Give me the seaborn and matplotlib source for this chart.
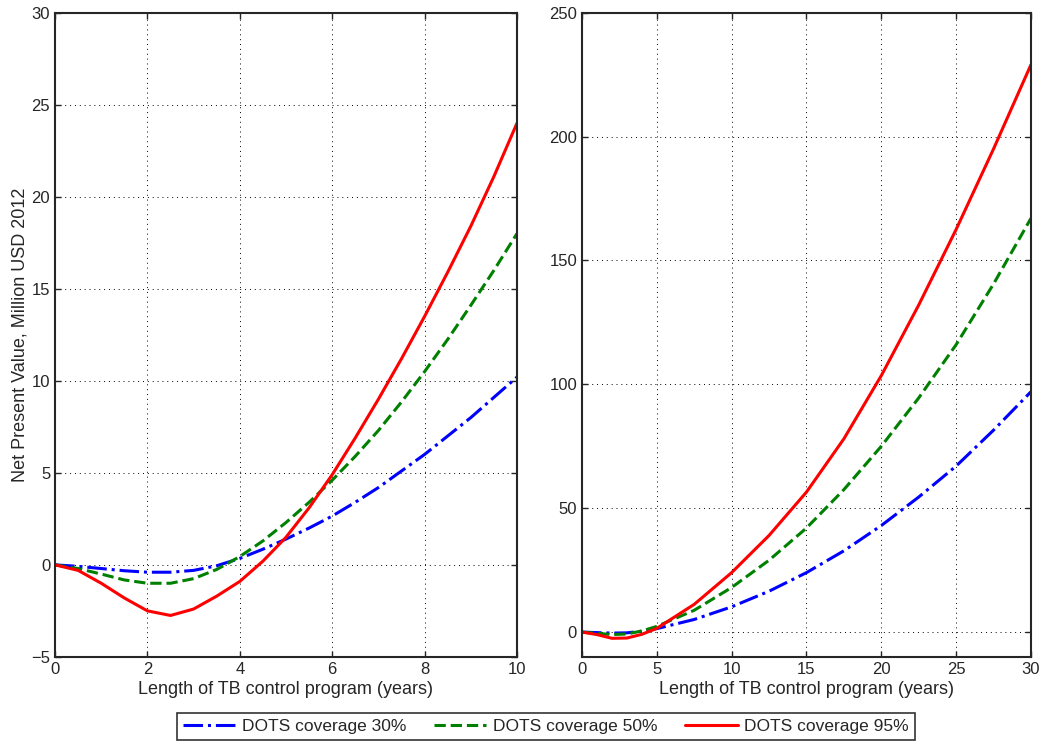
import numpy as np
import pandas as pd
import matplotlib
matplotlib.use("Agg")
import matplotlib.pyplot as plt
import seaborn as sns

# values (NPV, million USD 2012)
years_short = [0, 0.5, 1, 1.5, 2, 2.5, 3, 3.5, 4, 4.5, 5, 5.5, 6, 6.5, 7, 7.5, 8, 8.5, 9, 9.5, 10]
npv30_short = [0, -0.08, -0.2, -0.32, -0.4, -0.4, -0.3, -0.05, 0.35, 0.85, 1.4, 2.0, 2.65, 3.4, 4.2, 5.1, 6.0, 7.0, 8.0, 9.1, 10.2]
npv50_short = [0, -0.2, -0.5, -0.82, -1.0, -1.0, -0.75, -0.25, 0.45, 1.3, 2.3, 3.4, 4.6, 5.9, 7.3, 8.85, 10.5, 12.25, 14.1, 16.0, 18.0]
npv95_short = [0, -0.3, -1.0, -1.8, -2.5, -2.75, -2.4, -1.7, -0.9, 0.2, 1.5, 3.1, 4.9, 6.9, 9.0, 11.2, 13.5, 15.9, 18.4, 21.1, 24.0]

years_long = [0, 1, 2, 3, 4, 5, 7.5, 10, 12.5, 15, 17.5, 20, 22.5, 25, 27.5, 30]
npv30_long = [0, -0.2, -0.4, -0.3, 0.35, 1.4, 5.1, 10.2, 16.5, 24, 32.8, 43, 54.5, 67, 81.5, 97]
npv50_long = [0, -0.5, -1.0, -0.75, 0.45, 2.3, 8.8, 18, 29, 42, 57.5, 75, 94.5, 116, 140.5, 167]
npv95_long = [0, -1.0, -2.5, -2.4, -0.9, 1.5, 11.2, 24, 39, 56.5, 78, 103.5, 132, 162.5, 195, 229]

labels = ["DOTS coverage 30%", "DOTS coverage 50%", "DOTS coverage 95%"]
colors = ["#0000ff", "#008000", "#ff0000"]
styles = ["-.", "--", "-"]

sns.set_style("ticks")
plt.rcParams["font.family"] = ["Liberation Sans", "DejaVu Sans"]
plt.rcParams["font.size"] = 12

fig = plt.figure(figsize=(10.48, 7.49), dpi=100)
ax1 = fig.add_axes([0.0525, 0.123, 0.4408, 0.860])
ax2 = fig.add_axes([0.5553, 0.123, 0.4284, 0.860])

short = [npv30_short, npv50_short, npv95_short]
long_ = [npv30_long, npv50_long, npv95_long]

for ax, xs, series in [(ax1, years_short, short), (ax2, years_long, long_)]:
    for ys, lab, c, ls in zip(series, labels, colors, styles):
        df = pd.DataFrame({"x": xs, "y": ys})
        sns.lineplot(data=df, x="x", y="y", ax=ax, color=c, linestyle=ls,
                     linewidth=2.2, label=lab, legend=False)
    ax.grid(True, color="black", linestyle=(0, (1, 4)), linewidth=0.7)
    ax.tick_params(direction="in", length=4, width=1, labelsize=12, top=True, right=True)
    for s in ax.spines.values():
        s.set_linewidth(1.5)
    ax.set_xlabel("Length of TB control program (years)", fontsize=13, labelpad=3)
    ax.set_ylabel("")

ax1.set_xlim(0, 10)
ax1.set_ylim(-5, 30)
ax1.set_xticks(np.arange(0, 11, 2))
ax1.set_yticks(np.arange(-5, 31, 5))
ax1.set_ylabel("Net Present Value, Million USD 2012", fontsize=13, labelpad=2)

ax2.set_xlim(0, 30)
ax2.set_ylim(-10, 250)
ax2.set_xticks(np.arange(0, 31, 5))
ax2.set_yticks(np.arange(0, 251, 50))

handles, lbls = ax1.get_legend_handles_labels()
leg = fig.legend(handles, lbls, loc="lower center", bbox_to_anchor=(0.521, 0.0), ncol=3,
                 fontsize=12.5, frameon=True, fancybox=False, edgecolor="black",
                 handlelength=3.0, handletextpad=0.4, columnspacing=1.6, borderpad=0.35)
leg.get_frame().set_linewidth(1.2)

fig.savefig("out.png", dpi=100)
